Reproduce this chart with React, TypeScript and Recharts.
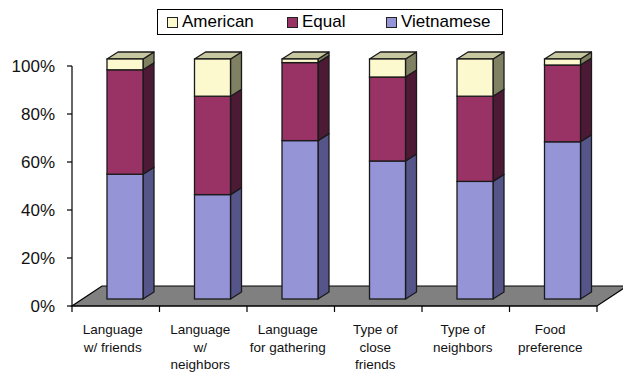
import React from 'react';
import { BarChart, Bar, XAxis, YAxis, ReferenceArea, Legend } from 'recharts';

const categories = [
  'Language\nw/ friends',
  'Language\nw/\nneighbors',
  'Language\nfor gathering',
  'Type of\nclose\nfriends',
  'Type of\nneighbors',
  'Food\npreference',
];
const vietnamese = [52, 43.5, 66, 57.5, 49, 65.5];
const equal = [43.5, 41, 32.5, 35, 35.5, 32];
const american = [4.5, 15.5, 1.5, 7.5, 15.5, 2.5];
const yTicks = [0, 20, 40, 60, 80, 100];

const data = categories.map((name, i) => ({
  name,
  vietnamese: vietnamese[i],
  equal: equal[i],
  american: american[i],
}));

const W = 623;
const H = 374;
const MARGIN = { top: 66, right: 26, bottom: 8, left: 0 };
const BAND = (W - 72 - MARGIN.right) / categories.length;

// 3d look
const SHIFT_X = 9;
const SHIFT_Y = -7;
const DEPTH_X = 11;
const DEPTH_Y = -7;
const FLOOR_X = 30;
const FLOOR_Y = -20;
const EDGE = '#1a1a1a';
const FONT = '"Liberation Sans", Arial, Helvetica, sans-serif';

const series = [
  { key: 'vietnamese', name: 'Vietnamese', front: '#9494d6', side: '#55558a', top: '#7a7ab8' },
  { key: 'equal', name: 'Equal', front: '#993366', side: '#4d1a35', top: '#7a2850' },
  { key: 'american', name: 'American', front: '#fcf9cf', side: '#808063', top: '#c8c8a0' },
];

const makeShape = (s: any, isTop: boolean) => (props: any) => {
  const { x, y, width, height } = props;
  if (height == null || height <= 0) return <g />;
  const fx = x + SHIFT_X;
  const fy = y + SHIFT_Y;
  const side = [
    [fx + width, fy],
    [fx + width + DEPTH_X, fy + DEPTH_Y],
    [fx + width + DEPTH_X, fy + DEPTH_Y + height],
    [fx + width, fy + height],
  ];
  const top = [
    [fx, fy],
    [fx + DEPTH_X, fy + DEPTH_Y],
    [fx + width + DEPTH_X, fy + DEPTH_Y],
    [fx + width, fy],
  ];
  const pts = (a: number[][]) => a.map((p) => p.join(',')).join(' ');
  return (
    <g>
      <polygon points={pts(side)} fill={s.side} stroke={EDGE} strokeWidth={1.3} strokeLinejoin="round" />
      {isTop && <polygon points={pts(top)} fill={s.top} stroke={EDGE} strokeWidth={1.3} strokeLinejoin="round" />}
      <rect x={fx} y={fy} width={width} height={height} fill={s.front} stroke={EDGE} strokeWidth={1.3} />
    </g>
  );
};

const Floor = (props: any) => {
  const { x, y, width, height } = props;
  const by = y + (height || 0);
  const pts = [
    [x, by],
    [x + width, by],
    [x + width + FLOOR_X, by + FLOOR_Y],
    [x + FLOOR_X, by + FLOOR_Y],
  ]
    .map((p) => p.join(','))
    .join(' ');
  return <polygon points={pts} fill="#808080" stroke="#000" strokeWidth={1.2} />;
};

const XTick = (props: any) => {
  const { x, y, payload, index } = props;
  const lines = String(payload.value).split('\n');
  const left = x - BAND / 2;
  return (
    <g>
      <line x1={left} y1={y - 8} x2={left} y2={y - 2} stroke="#000" strokeWidth={1.2} />
      {index === categories.length - 1 && (
        <line x1={left + BAND} y1={y - 8} x2={left + BAND} y2={y - 2} stroke="#000" strokeWidth={1.2} />
      )}
      <text x={x - 3} y={y + 20} textAnchor="middle" fontSize={13.5} fill="#111" fontFamily={FONT}>
        {lines.map((l, i) => (
          <tspan key={i} x={x - 3} dy={i === 0 ? 0 : 17.7}>
            {l}
          </tspan>
        ))}
      </text>
    </g>
  );
};

const legendOrder = ['american', 'equal', 'vietnamese'];
const legendLeft = [9, 129, 228];

const LegendBox = () => (
  <div
    style={{
      position: 'relative',
      width: 346,
      height: 26,
      border: '1.5px solid #000',
      boxSizing: 'border-box',
      fontFamily: FONT,
      fontSize: 17,
      background: '#fff',
    }}
  >
    {legendOrder.map((k, i) => {
      const s = series.find((d) => d.key === k)!;
      return (
        <div key={k} style={{ position: 'absolute', left: legendLeft[i], top: 2, display: 'flex', alignItems: 'center', height: 20 }}>
          <span style={{ display: 'inline-block', width: 9, height: 9, background: s.front, border: '1.2px solid #222', marginRight: 4 }} />
          <span>{s.name}</span>
        </div>
      );
    })}
  </div>
);

export default function App() {
  return (
    <div style={{ position: 'absolute', left: 0, top: 0, width: W, height: H, background: '#fff', fontFamily: FONT }}>
      <BarChart width={W} height={H} data={data} margin={MARGIN} barSize={36} style={{ fontFamily: FONT }}>
        <XAxis
          dataKey="name"
          interval={0}
          height={60}
          tickLine={false}
          axisLine={{ stroke: '#000', strokeWidth: 1.2 }}
          tick={<XTick />}
        />
        <YAxis
          width={72}
          domain={[0, 100]}
          ticks={yTicks}
          tickFormatter={(v: number) => `${v}%`}
          tickSize={5}
          tickMargin={12}
          axisLine={{ stroke: '#000', strokeWidth: 1.2 }}
          tickLine={{ stroke: '#000', strokeWidth: 1.2 }}
          tick={{ fontSize: 17, fill: '#111', fontFamily: FONT }}
        />
        <ReferenceArea y1={0} y2={0} shape={<Floor />} ifOverflow="visible" />
        {series.map((s, i) => (
          <Bar
            key={s.key}
            dataKey={s.key}
            name={s.name}
            stackId="a"
            fill={s.front}
            isAnimationActive={false}
            shape={makeShape(s, i === series.length - 1)}
          />
        ))}
        <Legend
          layout="horizontal"
          verticalAlign="middle"
          align="center"
          wrapperStyle={{ top: 9, left: 157, width: 346 }}
          content={<LegendBox />}
        />
      </BarChart>
    </div>
  );
}
